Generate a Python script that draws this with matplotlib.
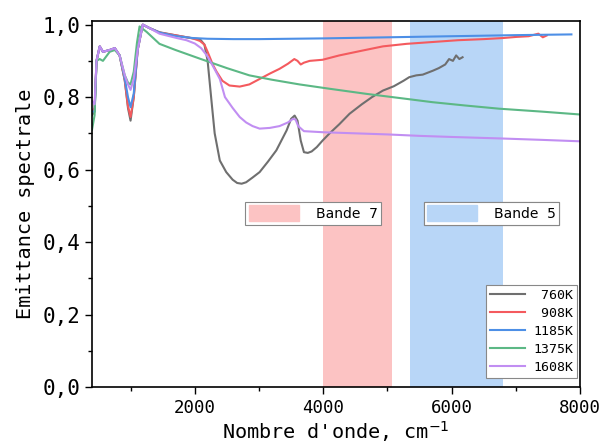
import numpy as np
import matplotlib.pyplot as plt
from matplotlib.patches import Patch
from matplotlib.ticker import FuncFormatter, MultipleLocator

# wavenumber (cm-1) / emittance
x_760 = [400, 440, 470, 520, 570, 675, 755, 830, 910, 960, 1000, 1050, 1110, 1190, 1300, 1450,
         1720, 1970, 2080, 2150, 2200, 2260, 2310, 2390, 2490, 2590, 2660, 2730, 2800, 2900,
         3010, 3140, 3270, 3430, 3500, 3555, 3600, 3650, 3700, 3760, 3820, 3900, 3990, 4100,
         4250, 4410, 4600, 4760, 4930, 5100, 5250, 5340, 5450, 5550, 5710, 5800, 5900, 5960,
         6020, 6070, 6120, 6170]
y_760 = [0.75, 0.76, 0.90, 0.94, 0.925, 0.93, 0.935, 0.915, 0.846, 0.77, 0.735, 0.80, 0.93, 1.0,
         0.99, 0.979, 0.97, 0.962, 0.96, 0.945, 0.90, 0.79, 0.70, 0.625, 0.593, 0.572, 0.563,
         0.561, 0.565, 0.578, 0.593, 0.622, 0.653, 0.708, 0.74, 0.749, 0.735, 0.68, 0.648,
         0.646, 0.65, 0.662, 0.68, 0.70, 0.725, 0.754, 0.78, 0.80, 0.818, 0.83, 0.845, 0.855,
         0.86, 0.862, 0.873, 0.88, 0.89, 0.905, 0.90, 0.915, 0.905, 0.91]

x_908 = [400, 440, 470, 520, 570, 675, 755, 830, 910, 960, 1000, 1050, 1110, 1190, 1300, 1450,
         1720, 1970, 2080, 2150, 2200, 2280, 2340, 2430, 2540, 2700, 2850, 3010, 3170, 3320,
         3450, 3550, 3600, 3650, 3700, 3790, 3990, 4250, 4600, 4930, 5300, 5700, 6100, 6500,
         6800, 7000, 7200, 7350, 7420, 7480]
y_908 = [0.76, 0.77, 0.90, 0.94, 0.925, 0.93, 0.935, 0.915, 0.846, 0.775, 0.745, 0.80, 0.93,
         1.0, 0.99, 0.978, 0.97, 0.962, 0.955, 0.945, 0.925, 0.89, 0.87, 0.845, 0.832, 0.829,
         0.835, 0.85, 0.865, 0.878, 0.892, 0.905, 0.90, 0.89, 0.895, 0.90, 0.903, 0.915,
         0.928, 0.94, 0.947, 0.952, 0.957, 0.96, 0.963, 0.966, 0.968, 0.975, 0.965, 0.97]

x_1185 = [400, 440, 470, 520, 570, 675, 755, 830, 910, 960, 1000, 1050, 1110, 1190, 1300, 1450,
          1720, 1970, 2200, 2600, 3000, 4000, 5000, 6000, 7000, 7865]
y_1185 = [0.76, 0.76, 0.90, 0.94, 0.925, 0.93, 0.935, 0.915, 0.85, 0.80, 0.772, 0.81, 0.93,
          1.0, 0.99, 0.978, 0.968, 0.963, 0.961, 0.96, 0.96, 0.962, 0.965, 0.968, 0.971, 0.973]

x_1375 = [400, 440, 470, 520, 570, 675, 755, 830, 910, 960, 1000, 1050, 1100, 1140, 1250, 1450,
          1700, 2080, 2500, 2850, 3200, 3630, 4100, 4670, 5300, 5700, 6200, 6740, 7400, 8000]
y_1375 = [0.71, 0.75, 0.90, 0.905, 0.90, 0.925, 0.93, 0.915, 0.86, 0.84, 0.835, 0.87, 0.95,
          0.995, 0.98, 0.947, 0.93, 0.906, 0.88, 0.86, 0.848, 0.835, 0.823, 0.809, 0.795,
          0.786, 0.777, 0.768, 0.76, 0.752]

x_1608 = [400, 440, 470, 520, 570, 675, 755, 830, 910, 960, 1000, 1050, 1110, 1190, 1300, 1450,
          1720, 1870, 2000, 2100, 2200, 2300, 2390, 2470, 2590, 2700, 2800, 2900, 3010, 3170,
          3320, 3450, 3530, 3570, 3610, 3700, 4000, 4500, 5000, 5500, 6000, 6740, 7400, 8000]
y_1608 = [0.79, 0.78, 0.90, 0.94, 0.925, 0.93, 0.935, 0.915, 0.86, 0.835, 0.82, 0.85, 0.93,
          1.0, 0.99, 0.975, 0.963, 0.957, 0.948, 0.935, 0.912, 0.88, 0.85, 0.80, 0.77, 0.745,
          0.73, 0.72, 0.713, 0.715, 0.72, 0.73, 0.74, 0.738, 0.72, 0.706, 0.703, 0.70, 0.697,
          0.693, 0.69, 0.686, 0.682, 0.678]

labels = [' 760K', ' 908K', '1185K', '1375K', '1608K']
colors = ['#6f6f6f', '#f45a5e', '#4d8fe6', '#5cb885', '#c18ef2']

bande7 = (4000, 5070)
bande5 = (5350, 6800)

mono = 'DejaVu Sans Mono'
fig = plt.figure(figsize=(6.03, 4.44), dpi=100)
ax = fig.add_axes([0.1526, 0.1284, 0.8094, 0.8243])

ax.axvspan(*bande7, color='#fcc3c3', lw=0, zorder=0)
ax.axvspan(*bande5, color='#b8d6f7', lw=0, zorder=0)

series = [(x_760, y_760), (x_908, y_908), (x_1185, y_1185), (x_1375, y_1375), (x_1608, y_1608)]
lines = []
for (xs, ys), lab, c in zip(series, labels, colors):
    ln, = ax.plot(xs, ys, color=c, lw=1.5, label=lab, zorder=2)
    lines.append(ln)

ax.set_xlim(400, 8000)
ax.set_ylim(0, 1.01)
ax.xaxis.set_major_locator(MultipleLocator(2000))
ax.xaxis.set_minor_locator(MultipleLocator(1000))
ax.yaxis.set_major_locator(MultipleLocator(0.2))
ax.yaxis.set_minor_locator(MultipleLocator(0.1))
ax.yaxis.set_major_formatter(FuncFormatter(lambda v, p: ('%.1f' % v).replace('.', ',')))
ax.tick_params(which='major', length=5, width=1, labelsize=15)
ax.tick_params(which='minor', length=3, width=1)
ax.tick_params(axis='x', labelsize=12.5)
for lab in ax.get_xticklabels() + ax.get_yticklabels():
    lab.set_family(mono)
for s in ax.spines.values():
    s.set_linewidth(1.2)

ax.set_xlabel("Nombre d'onde, cm$^{-1}$", fontsize=14.5, family=mono, labelpad=2)
ax.set_ylabel('Emittance spectrale', fontsize=14.5, family=mono, labelpad=5)

leg = ax.legend(handles=lines, loc='lower right', bbox_to_anchor=(0.994, 0.025),
                borderaxespad=0, prop={'family': mono, 'size': 9.5}, handlelength=2.7,
                fancybox=False, edgecolor='#888888', framealpha=1, borderpad=0.3,
                labelspacing=0.38, handletextpad=0.6)
leg.get_frame().set_linewidth(0.8)
ax.add_artist(leg)

for name, col, xc in [('Bande  7', '#fcc3c3', 0.453), ('Bande  5', '#b8d6f7', 0.818)]:
    lg = ax.legend(handles=[Patch(color=col)], labels=[name], loc='center',
                   bbox_to_anchor=(xc, 0.475), fancybox=False, edgecolor='#888888',
                   framealpha=1, fontsize=10, handlelength=3.6, handleheight=1.4,
                   borderpad=0.25, handletextpad=1.2)
    lg.get_frame().set_linewidth(0.8)
    ax.add_artist(lg)

fig.savefig('out.png', dpi=100)
